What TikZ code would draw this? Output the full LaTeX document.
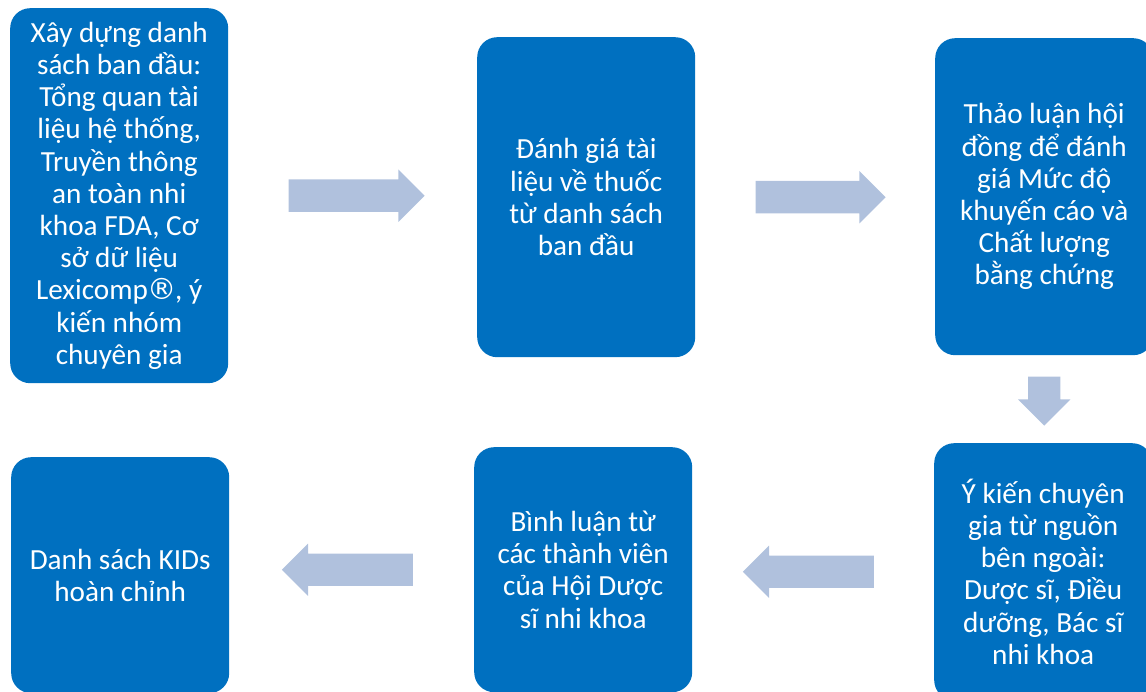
\documentclass[tikz,border=0pt]{standalone}
\usepackage{fontspec}
\setmainfont{Carlito}
\newfontfamily\symfont{DejaVu Sans}
\usetikzlibrary{shapes.arrows,calc}
\definecolor{boxblue}{HTML}{0070C0}
\definecolor{arrowblue}{HTML}{B0C1DD}
\tikzset{
  stagebox/.style={fill=boxblue, rounded corners=20pt, text=white, align=center,
    minimum width=218pt, anchor=north west, inner sep=0pt,
    font=\fontsize{29.2}{32.2}\selectfont},
  blockarrow/.style={single arrow, fill=arrowblue, inner xsep=0pt, inner ysep=16pt,
    single arrow head extend=10pt, anchor=tail}
}
\begin{document}
\begin{tikzpicture}[x=1pt,y=-1pt]
  \useasboundingbox (0,0) rectangle (1146,692);

  % Top row
  \node[stagebox, minimum height=375pt] (list) at (10,8)
    {Xây dựng danh\\sách ban đầu:\\Tổng quan tài\\liệu hệ thống,\\Truyền thông\\an toàn nhi\\khoa FDA, Cơ\\sở dữ liệu\\Lexicomp{\symfont ®}\kern-2pt, ý\\kiến nhóm\\chuyên gia};
  \node[stagebox, minimum height=320pt] (review) at (477,37)
    {Đánh giá tài\\liệu về thuốc\\từ danh sách\\ban đầu};
  \node[stagebox, minimum height=317pt] (panel) at (935,38)
    {Thảo luận hội\\đồng để đánh\\giá Mức độ\\khuyến cáo và\\Chất lượng\\bằng chứng};

  % Bottom row
  \node[stagebox, minimum height=257pt] (expert) at (934,443)
    {Ý kiến chuyên\\gia từ nguồn\\bên ngoài:\\Dược sĩ, Điều\\dưỡng, Bác sĩ\\nhi khoa};
  \node[stagebox, minimum height=245pt] (comment) at (474,447)
    {Bình luận từ\\các thành viên\\của Hội Dược\\sĩ nhi khoa};
  \node[stagebox, minimum height=236pt] (final) at (11,457)
    {Danh sách KIDs\\hoàn chỉnh};

  % Arrows between the stages
  \node[blockarrow, minimum height=136pt] (a12) at ($(list.east)+(60,0)$) {};
  \node[blockarrow, minimum height=130pt] (a23) at ($(review.east)+(60,0)$) {};
  \node[blockarrow, minimum height=49pt, rotate=-90] (a34) at ($(panel.south)+(0,21)$) {};
  \node[blockarrow, minimum height=131pt, rotate=180] (a45) at ($(expert.west)+(-60,0)$) {};
  \node[blockarrow, minimum height=131pt, rotate=180] (a56) at ($(comment.west)+(-61,0)$) {};
\end{tikzpicture}
\end{document}
